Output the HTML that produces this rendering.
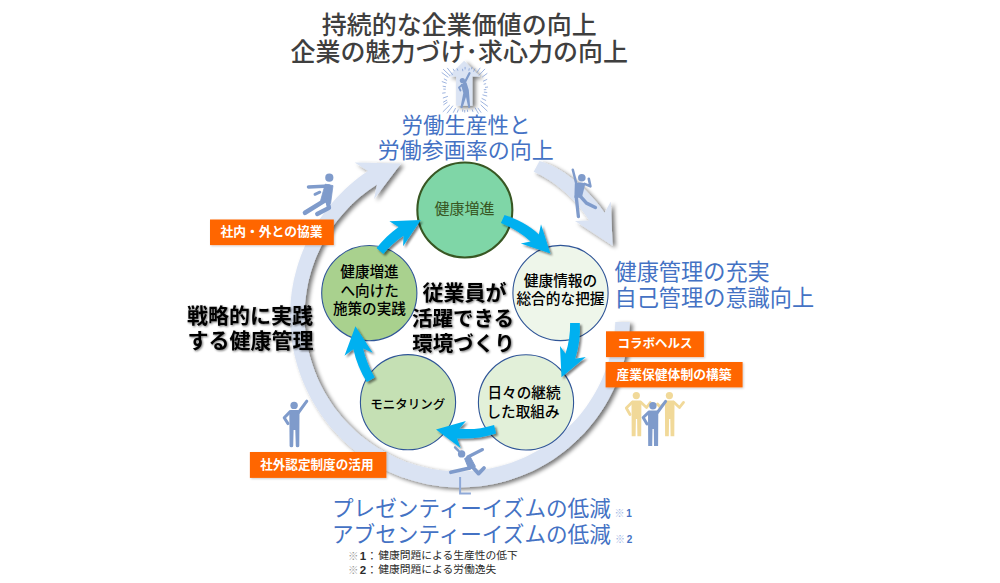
<!DOCTYPE html><html><head><meta charset="utf-8"><style>html,body{margin:0;padding:0;background:#fff}body{width:1000px;height:583px;overflow:hidden;font-family:"Liberation Sans",sans-serif}svg{display:block}</style></head><body><svg width="1000" height="583" viewBox="0 0 1000 583">
<defs>
<filter id="sh" x="-20%" y="-20%" width="140%" height="140%"><feGaussianBlur in="SourceAlpha" stdDeviation="2"/><feOffset dx="3.3" dy="1.9"/><feComponentTransfer><feFuncA type="linear" slope="0.55"/></feComponentTransfer><feMerge><feMergeNode/><feMergeNode in="SourceGraphic"/></feMerge></filter>
<filter id="sh2" x="-20%" y="-20%" width="140%" height="140%"><feGaussianBlur in="SourceAlpha" stdDeviation="1.2"/><feOffset dx="1.8" dy="1.8"/><feComponentTransfer><feFuncA type="linear" slope="0.5"/></feComponentTransfer><feMerge><feMergeNode/><feMergeNode in="SourceGraphic"/></feMerge></filter>
<filter id="shl" x="-10%" y="-20%" width="120%" height="150%"><feGaussianBlur in="SourceAlpha" stdDeviation="1"/><feOffset dx="0.5" dy="1"/><feComponentTransfer><feFuncA type="linear" slope="0.2"/></feComponentTransfer><feMerge><feMergeNode/><feMergeNode in="SourceGraphic"/></feMerge></filter>
<filter id="sht" x="-10%" y="-20%" width="120%" height="150%"><feGaussianBlur in="SourceAlpha" stdDeviation="0.9"/><feOffset dx="1.3" dy="1.3"/><feComponentTransfer><feFuncA type="linear" slope="0.55"/></feComponentTransfer><feMerge><feMergeNode/><feMergeNode in="SourceGraphic"/></feMerge></filter>
</defs>
<rect width="1000" height="583" fill="#fff"/>
<path d="M629.8 322.0 L629.5 327.8 L629.0 333.6 L628.3 339.4 L627.4 345.1 L626.3 350.9 L625.1 356.6 L623.6 362.2 L622.0 367.8 L620.1 373.3 L618.1 378.8 L615.9 384.2 L613.5 389.5 L610.9 394.7 L608.2 399.9 L605.3 404.9 L602.2 409.9 L598.9 414.7 L595.5 419.4 L591.9 424.0 L588.2 428.5 L584.3 432.9 L580.2 437.1 L576.0 441.2 L571.7 445.1 L567.3 448.9 L562.7 452.6 L558.0 456.0 L553.1 459.4 L548.2 462.5 L543.1 465.5 L538.0 468.3 L532.7 470.9 L527.4 473.3 L522.0 475.6 L516.5 477.6 L510.9 479.5 L505.3 481.2 L499.6 482.7 L493.9 484.0 L488.1 485.0 L482.3 485.9 L476.5 486.6 L470.6 487.1 L464.8 487.3 L458.9 487.4 L453.0 487.3 L447.2 486.9 L441.3 486.4 L435.5 485.6 L429.7 484.7 L424.0 483.5 L418.2 482.1 L412.6 480.6 L407.0 478.8 L401.4 476.9 L396.0 474.8 L390.6 472.4 L385.3 469.9 L380.1 467.3 L375.0 464.4 L370.0 461.3 L365.1 458.1 L360.3 454.8 L355.6 451.2 L351.1 447.5 L346.7 443.7 L342.4 439.7 L338.3 435.6 L334.3 431.3 L330.4 426.9 L326.7 422.3 L323.2 417.7 L319.9 412.9 L316.7 408.0 L313.6 403.0 L310.8 397.9 L308.1 392.8 L305.6 387.5 L303.3 382.2 L301.1 376.7 L299.2 371.2 L297.4 365.7 L295.8 360.1 L294.4 354.4 L293.2 348.7 L292.2 343.0 L291.4 337.2 L290.8 331.4 L290.4 325.6 L290.1 319.8 L290.1 314.0 L290.3 308.2 L290.6 302.4 L291.2 296.6 L291.9 290.8 L292.9 285.1 L294.0 279.3 L295.4 273.7 L296.9 268.1 L298.6 262.5 L300.5 257.0 L302.6 251.5 L304.8 246.2 L307.3 240.9 L309.9 235.7 L312.7 230.5 L315.6 225.5 L318.8 220.6 L322.1 215.7 L325.5 211.0 L329.1 206.4 L332.9 201.9 L336.8 197.6 L340.8 193.4 L345.0 189.3 L349.4 185.3 L353.8 181.5 L358.4 177.8 L363.2 174.3 L368.0 171.0 L354.6 162.4 L401.0 163.4 L374.0 199.2 L377.0 184.5 L372.6 187.4 L368.2 190.5 L364.0 193.7 L359.8 197.1 L355.8 200.6 L351.9 204.2 L348.2 208.0 L344.6 211.9 L341.1 215.9 L337.7 220.1 L334.5 224.3 L331.4 228.7 L328.5 233.1 L325.8 237.7 L323.2 242.3 L320.7 247.1 L318.5 251.9 L316.3 256.8 L314.4 261.7 L312.6 266.7 L311.0 271.8 L309.6 276.9 L308.3 282.1 L307.3 287.3 L306.4 292.6 L305.7 297.8 L305.1 303.1 L304.8 308.5 L304.6 313.8 L304.6 319.1 L304.8 324.4 L305.2 329.7 L305.8 335.0 L306.5 340.3 L307.4 345.5 L308.5 350.7 L309.8 355.9 L311.3 361.0 L312.9 366.1 L314.7 371.1 L316.7 376.0 L318.8 380.9 L321.1 385.7 L323.6 390.4 L326.2 395.1 L329.0 399.6 L331.9 404.0 L335.0 408.4 L338.3 412.6 L341.6 416.7 L345.2 420.7 L348.8 424.6 L352.6 428.3 L356.5 431.9 L360.5 435.4 L364.7 438.7 L369.0 441.9 L373.3 445.0 L377.8 447.9 L382.4 450.6 L387.0 453.2 L391.8 455.6 L396.6 457.9 L401.5 460.0 L406.4 461.9 L411.5 463.6 L416.5 465.2 L421.7 466.6 L426.9 467.8 L432.1 468.9 L437.3 469.7 L442.6 470.4 L447.9 470.9 L453.2 471.3 L458.5 471.4 L463.9 471.4 L469.2 471.1 L474.5 470.7 L479.8 470.1 L485.1 469.4 L490.3 468.4 L495.5 467.3 L500.7 466.0 L505.8 464.5 L510.8 462.9 L515.8 461.0 L520.8 459.0 L525.6 456.9 L530.4 454.5 L535.1 452.0 L539.7 449.4 L544.3 446.6 L548.7 443.6 L553.0 440.5 L557.2 437.2 L561.3 433.8 L565.3 430.3 L569.1 426.6 L572.9 422.8 L576.4 418.9 L579.9 414.9 L583.2 410.7 L586.4 406.4 L589.4 402.0 L592.3 397.6 L595.0 393.0 L597.6 388.3 L600.0 383.6 L602.2 378.7 L604.2 373.8 L606.1 368.8 L607.9 363.8 L609.4 358.7 L610.8 353.6 L612.0 348.4 L613.0 343.2 L613.8 337.9 L614.5 332.6 L615.0 327.3 L615.3 322.0 Z" fill="#DAE3F3" filter="url(#sh)"/>
<path d="M539.5 161 C560 166 588 188 604.5 212.7 L610.8 201.4 L612.6 245.8 L575 221 L589 220.4 C576 199 553 180 533.7 171.8 Z" fill="#DAE3F3" filter="url(#sh)"/>
<path d="M464.1 60.7 L480 76.5 L472.4 76.5 L472.4 105.7 L456.1 105.7 L456.1 76.5 L448.4 76.5 Z" fill="#DAE3F3" filter="url(#sh)"/>
<path d="M483.8 89.7 L486.3 89.6M483.9 92.1 L487.2 92.5M482.5 94.8 L487.2 96.1M481.6 98.3 L486.1 100.6M480.4 101.0 L487.9 106.4M480.7 104.8 L487.4 111.2M477.8 107.9 L481.1 112.6M475.0 107.6 L478.5 113.7M472.1 109.3 L473.0 111.9M467.4 109.6 L467.7 112.0M464.7 110.0 L464.7 112.5M462.8 109.3 L462.6 111.7M458.3 109.5 L457.2 112.6M455.6 108.0 L453.2 112.7M452.9 105.7 L447.0 113.3M449.8 105.0 L442.8 111.9M447.5 102.1 L443.4 104.9M447.1 100.0 L443.1 102.3M447.9 96.3 L442.9 98.1M445.6 92.7 L442.2 93.2M445.8 89.2 L443.3 89.1M446.0 86.8 L442.7 86.2M446.7 83.3 L441.8 81.5M447.1 80.5 L443.9 78.8M448.3 77.4 L441.7 72.5M450.0 75.7 L443.1 69.1M452.7 74.8 L447.2 67.9M454.4 71.1 L453.1 68.8M457.9 70.7 L457.0 68.4M462.8 71.2 L462.5 68.8M465.1 69.4 L465.1 66.9M468.8 70.7 L469.3 68.3M471.4 69.3 L472.1 66.9M473.5 71.7 L475.0 68.5M476.8 72.7 L480.2 67.8M478.9 75.4 L485.0 68.9M482.1 77.2 L487.3 73.3M483.0 81.3 L487.2 79.3M483.7 84.3 L486.1 83.6M485.0 87.4 L488.0 87.0" stroke="#7896D3" stroke-width="0.8" fill="none" opacity="0.9"/>
<g fill="none" stroke="#7F9BCB" stroke-linecap="round" stroke-linejoin="round" ><path d="M464 84 L469.5 73.2" stroke-width="2.2"/><path d="M461.5 85.5 L459 87.5 L460.5 90.5" stroke-width="1.8"/></g><circle cx="462.4" cy="80.5" r="2.6" fill="#7F9BCB"/>
<path d="M460.8 84 L466.5 82.5 L468.8 90 L470.2 107.8 L468.4 108 L466 97 L462.3 108.2 L460.4 107.8 L463.3 93 Z" fill="#7F9BCB"/>
<path d="M325.2 184.2 L333 185.6 L330.6 203.5 L320.6 200.6 Z" fill="#7F9BCB" stroke="#7F9BCB" stroke-width="0.8" stroke-linejoin="round"/>
<g fill="none" stroke="#7F9BCB" stroke-linecap="round" stroke-linejoin="round" ><path d="M329 186 L308.6 187" stroke-width="3.7"/><path d="M315 194.3 L319.8 192.2" stroke-width="2.9"/><path d="M324.6 200.6 L305 212.8" stroke-width="4.6"/><path d="M327.4 200.5 L329 207.8 L317.2 214" stroke-width="4.3"/></g><circle cx="329.3" cy="177.7" r="4.1" fill="#7F9BCB"/>
<path d="M574.8 183.4 Q580 181.5 585.4 183.4 L581.8 197.8 L574.4 197.8 Z" fill="#7F9BCB"/>
<g fill="none" stroke="#7F9BCB" stroke-linecap="round" stroke-linejoin="round" ><path d="M576.4 184 L572.8 169.8" stroke-width="2.5"/><path d="M584.6 183.9 L590.4 186.3 L588.8 178.8" stroke-width="2.6"/><path d="M576.2 196.5 L578.4 216.6" stroke-width="3.3"/><path d="M580.2 196.2 L586.5 203.2 L595.4 207.5" stroke-width="3.5"/></g><circle cx="581.8" cy="177.8" r="3.8" fill="#7F9BCB"/>
<path d="M289.3 411.5 Q289.3 410 291 410 L298 410 Q299.5 410 299.5 411.5 L299.3 446 Q299.3 447.2 297.5 447.2 Q295.8 447.2 295.8 446 L295.3 430 L293.6 430 L293.2 446 Q293.2 447.2 291.4 447.2 Q289.6 447.2 289.6 446 Z" fill="#7F9BCB"/>
<g fill="none" stroke="#7F9BCB" stroke-linecap="round" stroke-linejoin="round" ><path d="M298.5 412.5 L306.8 401.2" stroke-width="3"/><path d="M290.2 411.6 L284.2 417.8 L288 423.6" stroke-width="3"/></g><circle cx="294.1" cy="405.4" r="3.7" fill="#7F9BCB"/>
<path d="M464.6 458.6 L469.6 455.6 L475.4 466.4 L469 469.6 Z" fill="#7F9BCB" stroke="#7F9BCB" stroke-width="1" stroke-linejoin="round"/>
<g fill="none" stroke="#7F9BCB" stroke-linecap="round" stroke-linejoin="round" ><path d="M458.6 450.8 L455 447.3" stroke-width="2.4"/><path d="M467.8 457 L482.5 449.5" stroke-width="3.1"/><path d="M469.8 468 L450.8 472.3" stroke-width="3.6"/><path d="M472.8 467.2 L478.6 473.6 L484 468" stroke-width="3.8"/></g><circle cx="461.6" cy="453.9" r="3.7" fill="#7F9BCB"/>
<path d="M460.1 477 L460.1 493.5 L470.9 493.5" fill="none" stroke="#8FA9D8" stroke-width="2"/>
<circle cx="464.85" cy="210" r="47.5" fill="#7FD6A7" stroke="#385723" stroke-width="2.1"/>
<circle cx="560.5" cy="293" r="47.6" fill="#EEF6EA" stroke="#2F5597" stroke-width="1.1"/>
<circle cx="526" cy="402.4" r="47.6" fill="#E2F0D9" stroke="#2F5597" stroke-width="1.1"/>
<circle cx="408" cy="402.2" r="47.6" fill="#C5E0B4" stroke="#2F5597" stroke-width="1.1"/>
<circle cx="369.3" cy="293.1" r="47.6" fill="#A9D18E" stroke="#2F5597" stroke-width="1.1"/>
<path d="M376.5 247.9 C383 240 390 233 398.6 226.9 L389.4 221.3 L420.8 220.1 L403.1 246.3 L403.5 235.8 C396 241 389 247 383.3 254 Z" fill="#00B0F0" filter="url(#sh2)"/>
<path d="M504.5 215.1 C517 219 529 225.5 538.8 234.4 L541 224.2 L550.4 253.5 L520.8 243.4 L530.6 241.5 C522 233.5 512 227.5 500.9 223.1 Z" fill="#00B0F0" filter="url(#sh2)"/>
<path d="M570.1 322.9 L579.8 322.9 C580.5 335 579 347 575.2 358.7 L585.8 357.1 L561.5 377.3 L560 346 L565.5 353.7 C568.8 343.5 570.3 333.5 570.1 322.9 Z" fill="#00B0F0" filter="url(#sh2)"/>
<path d="M494.1 424.9 L496.1 433.4 C483 437.5 470 439.2 457 438.4 L460.6 448.1 L436 429.6 L465.9 420.9 L459.4 428.7 C471 429.8 482.5 428.5 494.1 424.9 Z" fill="#00B0F0" filter="url(#sh2)"/>
<path d="M366.7 381.9 L374.8 377.4 C369.5 368.5 365.5 358.8 363.1 348.4 L372.7 352.8 L355.4 326.2 L344.5 355.8 L353.4 349.2 C356 361 360.5 372 366.7 381.9 Z" fill="#00B0F0" filter="url(#sh2)"/>
<rect x="210" y="219.5" width="123.8" height="25.6" fill="#FF6600" filter="url(#shl)"/>
<rect x="606" y="331.3" width="97.9" height="25.8" fill="#FF6600" filter="url(#shl)"/>
<rect x="605.6" y="362" width="137.0" height="25.4" fill="#FF6600" filter="url(#shl)"/>
<rect x="249.9" y="452" width="136.5" height="25.9" fill="#FF6600" filter="url(#shl)"/>
<path d="M631.5 401.9 Q631.5 400.4 633.0 400.4 L639.9 400.4 Q641.4 400.4 641.4 401.9 L641.2 436.2 L637.4 436.2 L637.1 419.0 L635.9 419.0 L635.6 436.2 L631.7 436.2 Z" fill="#F1D999"/>
<g fill="none" stroke="#F1D999" stroke-linecap="round" stroke-linejoin="round" ><path d="M632.4 402 L626.3 408 L630 414.5" stroke-width="2.8"/><path d="M640.6 402 L646.5 407.5 L650.3 402.6" stroke-width="2.8"/></g><circle cx="636.3" cy="395.6" r="3.6" fill="#F1D999"/>
<path d="M664.9 401.9 Q664.9 400.4 666.4 400.4 L673.0 400.4 Q674.5 400.4 674.5 401.9 L674.3 436.2 L670.6 436.2 L670.3 419.0 L669.1 419.0 L668.8 436.2 L665.1 436.2 Z" fill="#F1D999"/>
<g fill="none" stroke="#F1D999" stroke-linecap="round" stroke-linejoin="round" ><path d="M665.8 402 L660 407 L657.5 404" stroke-width="2.8"/><path d="M673.6 402 L679.5 407.5 L683.5 402.4" stroke-width="2.8"/></g><circle cx="669.4" cy="395.6" r="3.6" fill="#F1D999"/>
<path d="M648.0 412.1 Q648.0 410.6 649.5 410.6 L656.8 410.6 Q658.3 410.6 658.3 412.1 L658.1 446.0 L654.0 446.0 L653.8 429.0 L652.5 429.0 L652.2 446.0 L648.2 446.0 Z" fill="#7F9BCB"/>
<g fill="none" stroke="#7F9BCB" stroke-linecap="round" stroke-linejoin="round" ><path d="M657.4 412.5 L665.6 401.4" stroke-width="3"/><path d="M648.9 412.2 L643.2 417.5 L647 424" stroke-width="3"/></g><circle cx="652.9" cy="405.8" r="3.7" fill="#7F9BCB"/>
<g font-family="&quot;Liberation Sans&quot;, &quot;Noto Sans CJK JP&quot;, sans-serif">
<text x="459.3" y="33.5" font-size="25" font-weight="500" fill="#3F3F3F" text-anchor="middle">持続的な企業価値の向上</text>
<text x="459.2" y="61" font-size="25" font-weight="500" fill="#3F3F3F" text-anchor="middle">企業の魅力づけ･求心力の向上</text>
<text x="466" y="133" font-size="21.5" fill="#4472C4" text-anchor="middle">労働生産性と</text>
<text x="465.7" y="158" font-size="22" fill="#4472C4" text-anchor="middle">労働参画率の向上</text>
<text x="614.5" y="279.5" font-size="22.2" fill="#4472C4">健康管理の充実</text>
<text x="614.5" y="306" font-size="22.2" fill="#4472C4">自己管理の意識向上</text>
<text x="332" y="515.5" font-size="21.6" fill="#4472C4">プレゼンティーイズムの低減</text>
<text x="332" y="541.5" font-size="21.6" fill="#4472C4">アブセンティーイズムの低減</text>
<text x="614.5" y="517" font-size="10" fill="#9DB5E3">※</text>
<text x="626.3" y="516.7" font-size="10" font-weight="bold" fill="#4472C4">1</text>
<text x="615" y="543.2" font-size="10" fill="#9DB5E3">※</text>
<text x="626.8" y="542.9" font-size="10" font-weight="bold" fill="#4472C4">2</text>
<text x="464.5" y="213.5" font-size="15" fill="#385723" text-anchor="middle">健康増進</text>
<text x="560.5" y="286" font-size="14.7" font-weight="500" fill="#000" text-anchor="middle">健康情報の</text>
<text x="560.5" y="304" font-size="14.7" font-weight="500" fill="#000" text-anchor="middle">総合的な把握</text>
<text x="524" y="398" font-size="14.6" font-weight="500" fill="#000" text-anchor="middle">日々の継続</text>
<text x="523" y="416.5" font-size="14.6" font-weight="500" fill="#000" text-anchor="middle">した取組み</text>
<text x="407.7" y="408.5" font-size="12.5" font-weight="500" fill="#000" text-anchor="middle">モニタリング</text>
<text x="369.5" y="276.5" font-size="14.6" font-weight="500" fill="#000" text-anchor="middle">健康増進</text>
<text x="369.7" y="295.5" font-size="14.6" font-weight="500" fill="#000" text-anchor="middle">へ向けた</text>
<text x="369.4" y="313.5" font-size="14.6" font-weight="500" fill="#000" text-anchor="middle">施策の実践</text>
<g filter="url(#sht)">
<text x="464.5" y="299.5" font-size="21" font-weight="bold" fill="#000" text-anchor="middle">従業員が</text>
<text x="463" y="325.5" font-size="20.5" font-weight="bold" fill="#000" text-anchor="middle">活躍できる</text>
<text x="463.5" y="350.5" font-size="20.5" font-weight="bold" fill="#000" text-anchor="middle">環境づくり</text>
<text x="250" y="323" font-size="21" font-weight="bold" fill="#000" text-anchor="middle">戦略的に実践</text>
<text x="250.5" y="348" font-size="21" font-weight="bold" fill="#000" text-anchor="middle">する健康管理</text>
</g>
<text x="271.5" y="236" font-size="12.8" font-weight="bold" fill="#fff" text-anchor="middle">社内・外との協業</text>
<text x="654.9" y="348" font-size="12.5" font-weight="bold" fill="#fff" text-anchor="middle">コラボヘルス</text>
<text x="674" y="379" font-size="12.8" font-weight="bold" fill="#fff" text-anchor="middle">産業保健体制の構築</text>
<text x="316.8" y="469.3" font-size="12.6" font-weight="bold" fill="#fff" text-anchor="middle">社外認定制度の活用</text>
<text x="348" y="559.6" font-size="10.5" fill="#9a9a9a">※</text>
<text x="359.8" y="559.8" font-size="11.5" font-weight="bold" fill="#2b2b2b">1</text>
<text x="371.9" y="560" font-size="10.8" fill="#2b2b2b" text-anchor="middle">：</text>
<text x="378.3" y="559" font-size="10.75" fill="#2b2b2b">健康問題による生産性の低下</text>
<text x="348" y="573.6" font-size="10.5" fill="#9a9a9a">※</text>
<text x="359.8" y="573.8" font-size="11.5" font-weight="bold" fill="#2b2b2b">2</text>
<text x="371.9" y="574" font-size="10.8" fill="#2b2b2b" text-anchor="middle">：</text>
<text x="378.3" y="573" font-size="10.75" fill="#2b2b2b">健康問題による労働逸失</text>
</g>
</svg></body></html>
